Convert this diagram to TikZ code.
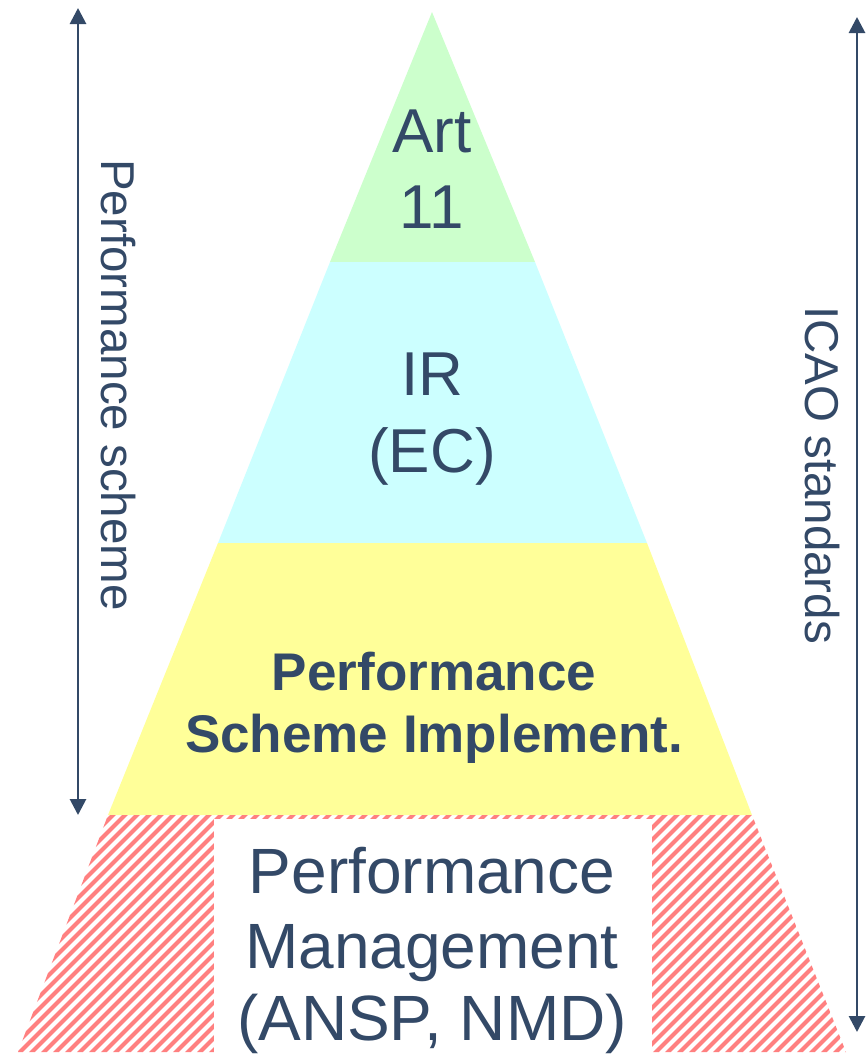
\documentclass[tikz,border=0pt]{standalone}
\usepackage{fontspec}
\setmainfont{Liberation Sans}
\usetikzlibrary{arrows.meta}

\definecolor{inkblue}{RGB}{51,73,103}
\definecolor{artgreen}{RGB}{204,255,204}
\definecolor{ircyan}{RGB}{204,255,255}
\definecolor{schemeyellow}{RGB}{255,255,153}
\definecolor{hatchred}{RGB}{255,128,128}

\begin{document}
\begin{tikzpicture}[x=1pt,y=-1pt,
  label/.style={inkblue,anchor=base},
  side/.style={inkblue,rotate=-90,font=\fontsize{47.5}{47.5}\selectfont},
  span/.style={inkblue,line width=2.8pt,{Triangle[length=16pt,width=16pt]}-{Triangle[length=16pt,width=16pt]}},
  stripe/.style={hatchred,line width=4.2pt}]
\useasboundingbox (0,0) rectangle (866,1055);

% pyramid bands
\fill[artgreen] (432,12) -- (535,262) -- (330,262) -- cycle;
\fill[ircyan] (330,262) -- (535,262) -- (647,543) -- (218,543) -- cycle;
\fill[schemeyellow] (218,543) -- (647,543) -- (752,815) -- (108,815) -- cycle;

% bottom band, hatched
\begin{scope}
\clip (108,815) -- (752,815) -- (846,1052) -- (18,1052) -- cycle;
\foreach \i in {-240,-228,...,850}
  \draw[stripe] (\i,1060) -- ++(270,-270);
\end{scope}
\fill[white] (214,819) rectangle (652,1055);

% texts
\node[label,font=\fontsize{62}{62}\selectfont] (art) at(432,152){Art};
\node[label,font=\fontsize{62}{62}\selectfont] (eleven) at(432,228){11};

\node[label,font=\fontsize{62}{62}\selectfont] (ir) at(432,395){IR};
\node[label,font=\fontsize{62}{62}\selectfont] (ec) at(432,472){(EC)};

\node[label,font=\fontsize{53}{53}\bfseries] (psone) at(434,690){Performance};
\node[label,font=\fontsize{53}{53}\bfseries] (pstwo) at(434,752){Scheme Implement.};

\node[label,font=\fontsize{64}{64}\selectfont] (pmone) at(432,893){Performance};
\node[label,font=\fontsize{64}{64}\selectfont] (pmtwo) at(432,968){Management};
\node[label,font=\fontsize{64}{64}\selectfont] (pmthree) at(432,1040){(ANSP, NMD)};

% side spans
\coordinate (pstop) at (78,8);
\coordinate (psbot) at (78,815);
\draw[span] (pstop) -- (psbot);
\node[side] (pslabel) at(118,385){Performance scheme};

\coordinate (icaotop) at (857,17);
\coordinate (icaobot) at (857,1032);
\draw[span] (icaotop) -- (icaobot);
\node[side] (icaolabel) at(822,475){ICAO standards};
\end{tikzpicture}
\end{document}
